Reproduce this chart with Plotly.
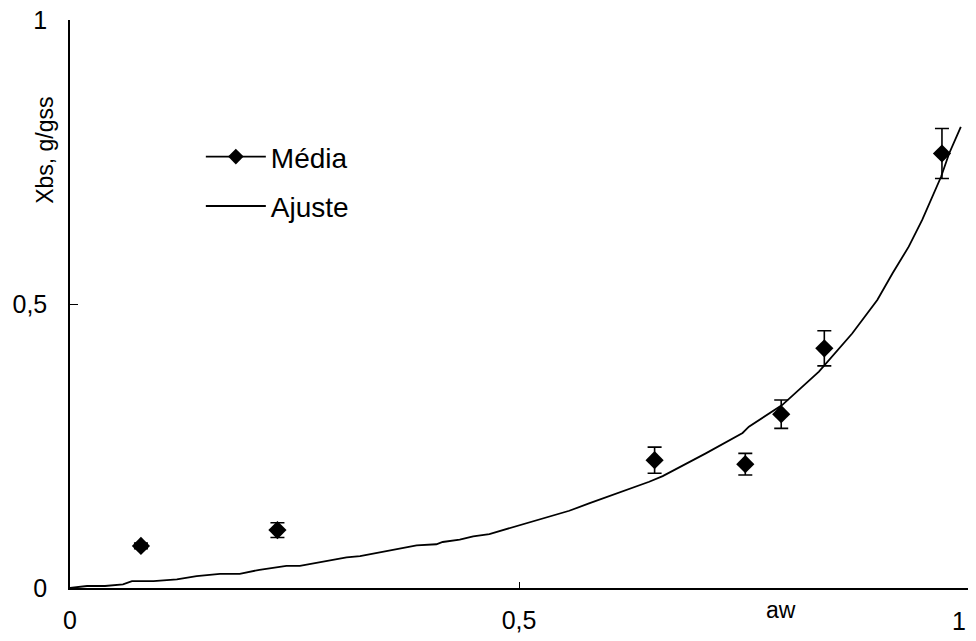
import plotly.graph_objects as go

# Measured data (Média) with error bars
aw_media = [0.079, 0.231, 0.651, 0.752, 0.792, 0.840, 0.971]
xbs_media = [0.074, 0.102, 0.225, 0.218, 0.306, 0.422, 0.765]
err_media = [0.005, 0.013, 0.023, 0.019, 0.025, 0.031, 0.044]

# Fitted curve (Ajuste)
aw_fit = [0.0, 0.019, 0.039, 0.059, 0.069, 0.093, 0.119, 0.141, 0.167, 0.189,
          0.211, 0.241, 0.256, 0.286, 0.308, 0.323, 0.367, 0.386, 0.408, 0.415,
          0.434, 0.449, 0.467, 0.497, 0.526, 0.556, 0.578, 0.601, 0.623, 0.645,
          0.660, 0.708, 0.749, 0.756, 0.793, 0.834, 0.871, 0.899, 0.916, 0.934,
          0.949, 0.960, 0.970, 0.979, 0.992]
xbs_fit = [0.0, 0.0035, 0.0035, 0.0065, 0.012, 0.012, 0.015, 0.021, 0.025, 0.025,
           0.032, 0.039, 0.039, 0.048, 0.054, 0.056, 0.069, 0.075, 0.077, 0.081,
           0.085, 0.091, 0.095, 0.109, 0.122, 0.136, 0.149, 0.162, 0.174, 0.187,
           0.197, 0.237, 0.273, 0.284, 0.322, 0.381, 0.448, 0.507, 0.554, 0.601,
           0.648, 0.689, 0.724, 0.765, 0.812]

tick_vals = [0, 0.5, 1]
x_tick_text = ["0", "0,5", ""]   # "1" placed as an annotation so it stays visible
y_tick_text = ["0", "0,5", "1"]

FONT = "Liberation Sans, Arial, sans-serif"

fig = go.Figure()
fig.add_trace(go.Scatter(
    x=aw_fit, y=xbs_fit, mode="lines", name="Ajuste",
    line=dict(color="black", width=1.8), showlegend=False,
))
fig.add_trace(go.Scatter(
    x=aw_media, y=xbs_media, mode="markers", name="Média",
    marker=dict(symbol="diamond", size=14, color="black"),
    error_y=dict(type="data", array=err_media, visible=True,
                 color="black", thickness=1.6, width=7),
    showlegend=False,
))
# legend entries
fig.add_trace(go.Scatter(
    x=[None], y=[None], mode="lines+markers", name="Média",
    line=dict(color="black", width=1.8),
    marker=dict(symbol="diamond", size=12, color="black"),
    legendgroup="a",
))
fig.add_trace(go.Scatter(
    x=[None], y=[None], mode="lines", name="Ajuste",
    line=dict(color="black", width=1.8), legendgroup="b",
))

fig.update_layout(
    width=960, height=625,
    margin=dict(l=62, r=0, t=12, b=45),
    paper_bgcolor="white", plot_bgcolor="white",
    font=dict(family=FONT, color="black", size=25),
    legend=dict(x=0.1457, y=0.803, xanchor="left", yanchor="top",
                font=dict(size=28, family=FONT), bgcolor="rgba(0,0,0,0)",
                itemwidth=60, tracegroupgap=10, traceorder="grouped"),
    xaxis=dict(range=[0, 1], tickvals=tick_vals, ticktext=x_tick_text,
               ticks="inside", ticklen=6, tickcolor="black", tickwidth=1.3,
               showline=True, linecolor="black", linewidth=1.5,
               showgrid=False, zeroline=False, ticklabelstandoff=9,
               ticklabeloverflow="allow", automargin=False),
    yaxis=dict(range=[0, 1], tickvals=tick_vals, ticktext=y_tick_text,
               ticks="inside", ticklen=8, tickcolor="black", tickwidth=1.3,
               showline=True, linecolor="black", linewidth=1.5,
               showgrid=False, zeroline=False, ticklabelstandoff=16,
               ticklabeloverflow="allow", automargin=False),
    annotations=[
        dict(text="1", x=1, y=0, xref="x", yref="paper", yshift=-33,
             showarrow=False, font=dict(size=25, family=FONT),
             xanchor="right", yanchor="middle"),
        dict(text="aw", x=0.792, y=0, xref="x", yref="paper", yshift=-22,
             showarrow=False, font=dict(size=23, family=FONT), xanchor="center", yanchor="middle"),
        dict(text="Xbs, g/gss", x=-0.028, y=(588 - 150) / 568, xref="paper", yref="paper",
             textangle=-90, showarrow=False, font=dict(size=23, family=FONT),
             xanchor="center", yanchor="middle"),
    ],
)

fig.write_html("out.html")
